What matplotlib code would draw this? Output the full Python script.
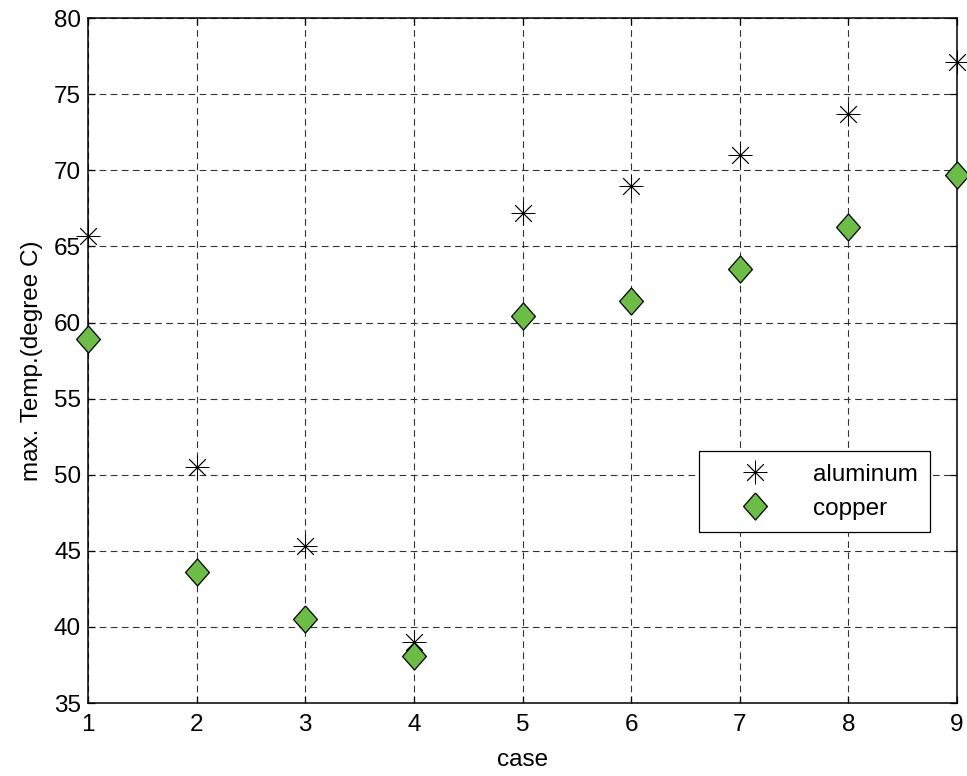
import numpy as np
import matplotlib
matplotlib.use("Agg")
import matplotlib.pyplot as plt

# values
cases = [1, 2, 3, 4, 5, 6, 7, 8, 9]
aluminum = [65.7, 50.5, 45.3, 39.0, 67.2, 69.0, 71.0, 73.7, 77.1]
copper = [58.9, 43.6, 40.5, 38.1, 60.4, 61.4, 63.5, 66.3, 69.7]
yticks = [35, 40, 45, 50, 55, 60, 65, 70, 75, 80]

plt.rcParams['font.family'] = ['Liberation Sans', 'DejaVu Sans']
plt.rcParams['font.size'] = 17.5

fig = plt.figure(figsize=(9.67, 7.76), dpi=100)
ax = fig.add_axes([0.091, 0.094, 0.8987, 0.8826])

# diamond a bit narrower than tall, like MATLAB's 'd'
diamond = [(0, 1), (0.88, 0), (0, -1), (-0.88, 0), (0, 1)]

ax.plot(cases, aluminum, linestyle='none', marker=(8, 2, 0), markersize=17,
        color='black', markeredgewidth=0.6, label='aluminum', clip_on=False, zorder=3)
ax.plot(cases, copper, linestyle='none', marker=diamond, markersize=19.5,
        markerfacecolor='#6cbd45', markeredgecolor='black', markeredgewidth=0.9,
        label='copper', clip_on=False, zorder=3)

ax.set_xlim(1, 9)
ax.set_ylim(35, 80)
ax.set_xticks(cases)
ax.set_yticks(yticks)
ax.grid(True, color='0.2', linestyle=(0, (6, 4)), linewidth=0.8)
ax.set_axisbelow(True)
ax.tick_params(direction='in', length=5, width=0.9, top=True, right=True, pad=5)
ax.tick_params(axis='x', pad=8)
for s in ax.spines.values():
    s.set_linewidth(1.1)

ax.set_xlabel('case', labelpad=9)
ax.set_ylabel('max. Temp.(degree C)', labelpad=8)

leg = ax.legend(loc='lower right', bbox_to_anchor=(0.969, 0.25), borderaxespad=0,
                fancybox=False, edgecolor='black', framealpha=1, borderpad=0.5,
                handletextpad=0.6, labelspacing=0.5, handlelength=3.6)
leg.get_frame().set_linewidth(0.9)

fig.savefig('out.png', dpi=100)
